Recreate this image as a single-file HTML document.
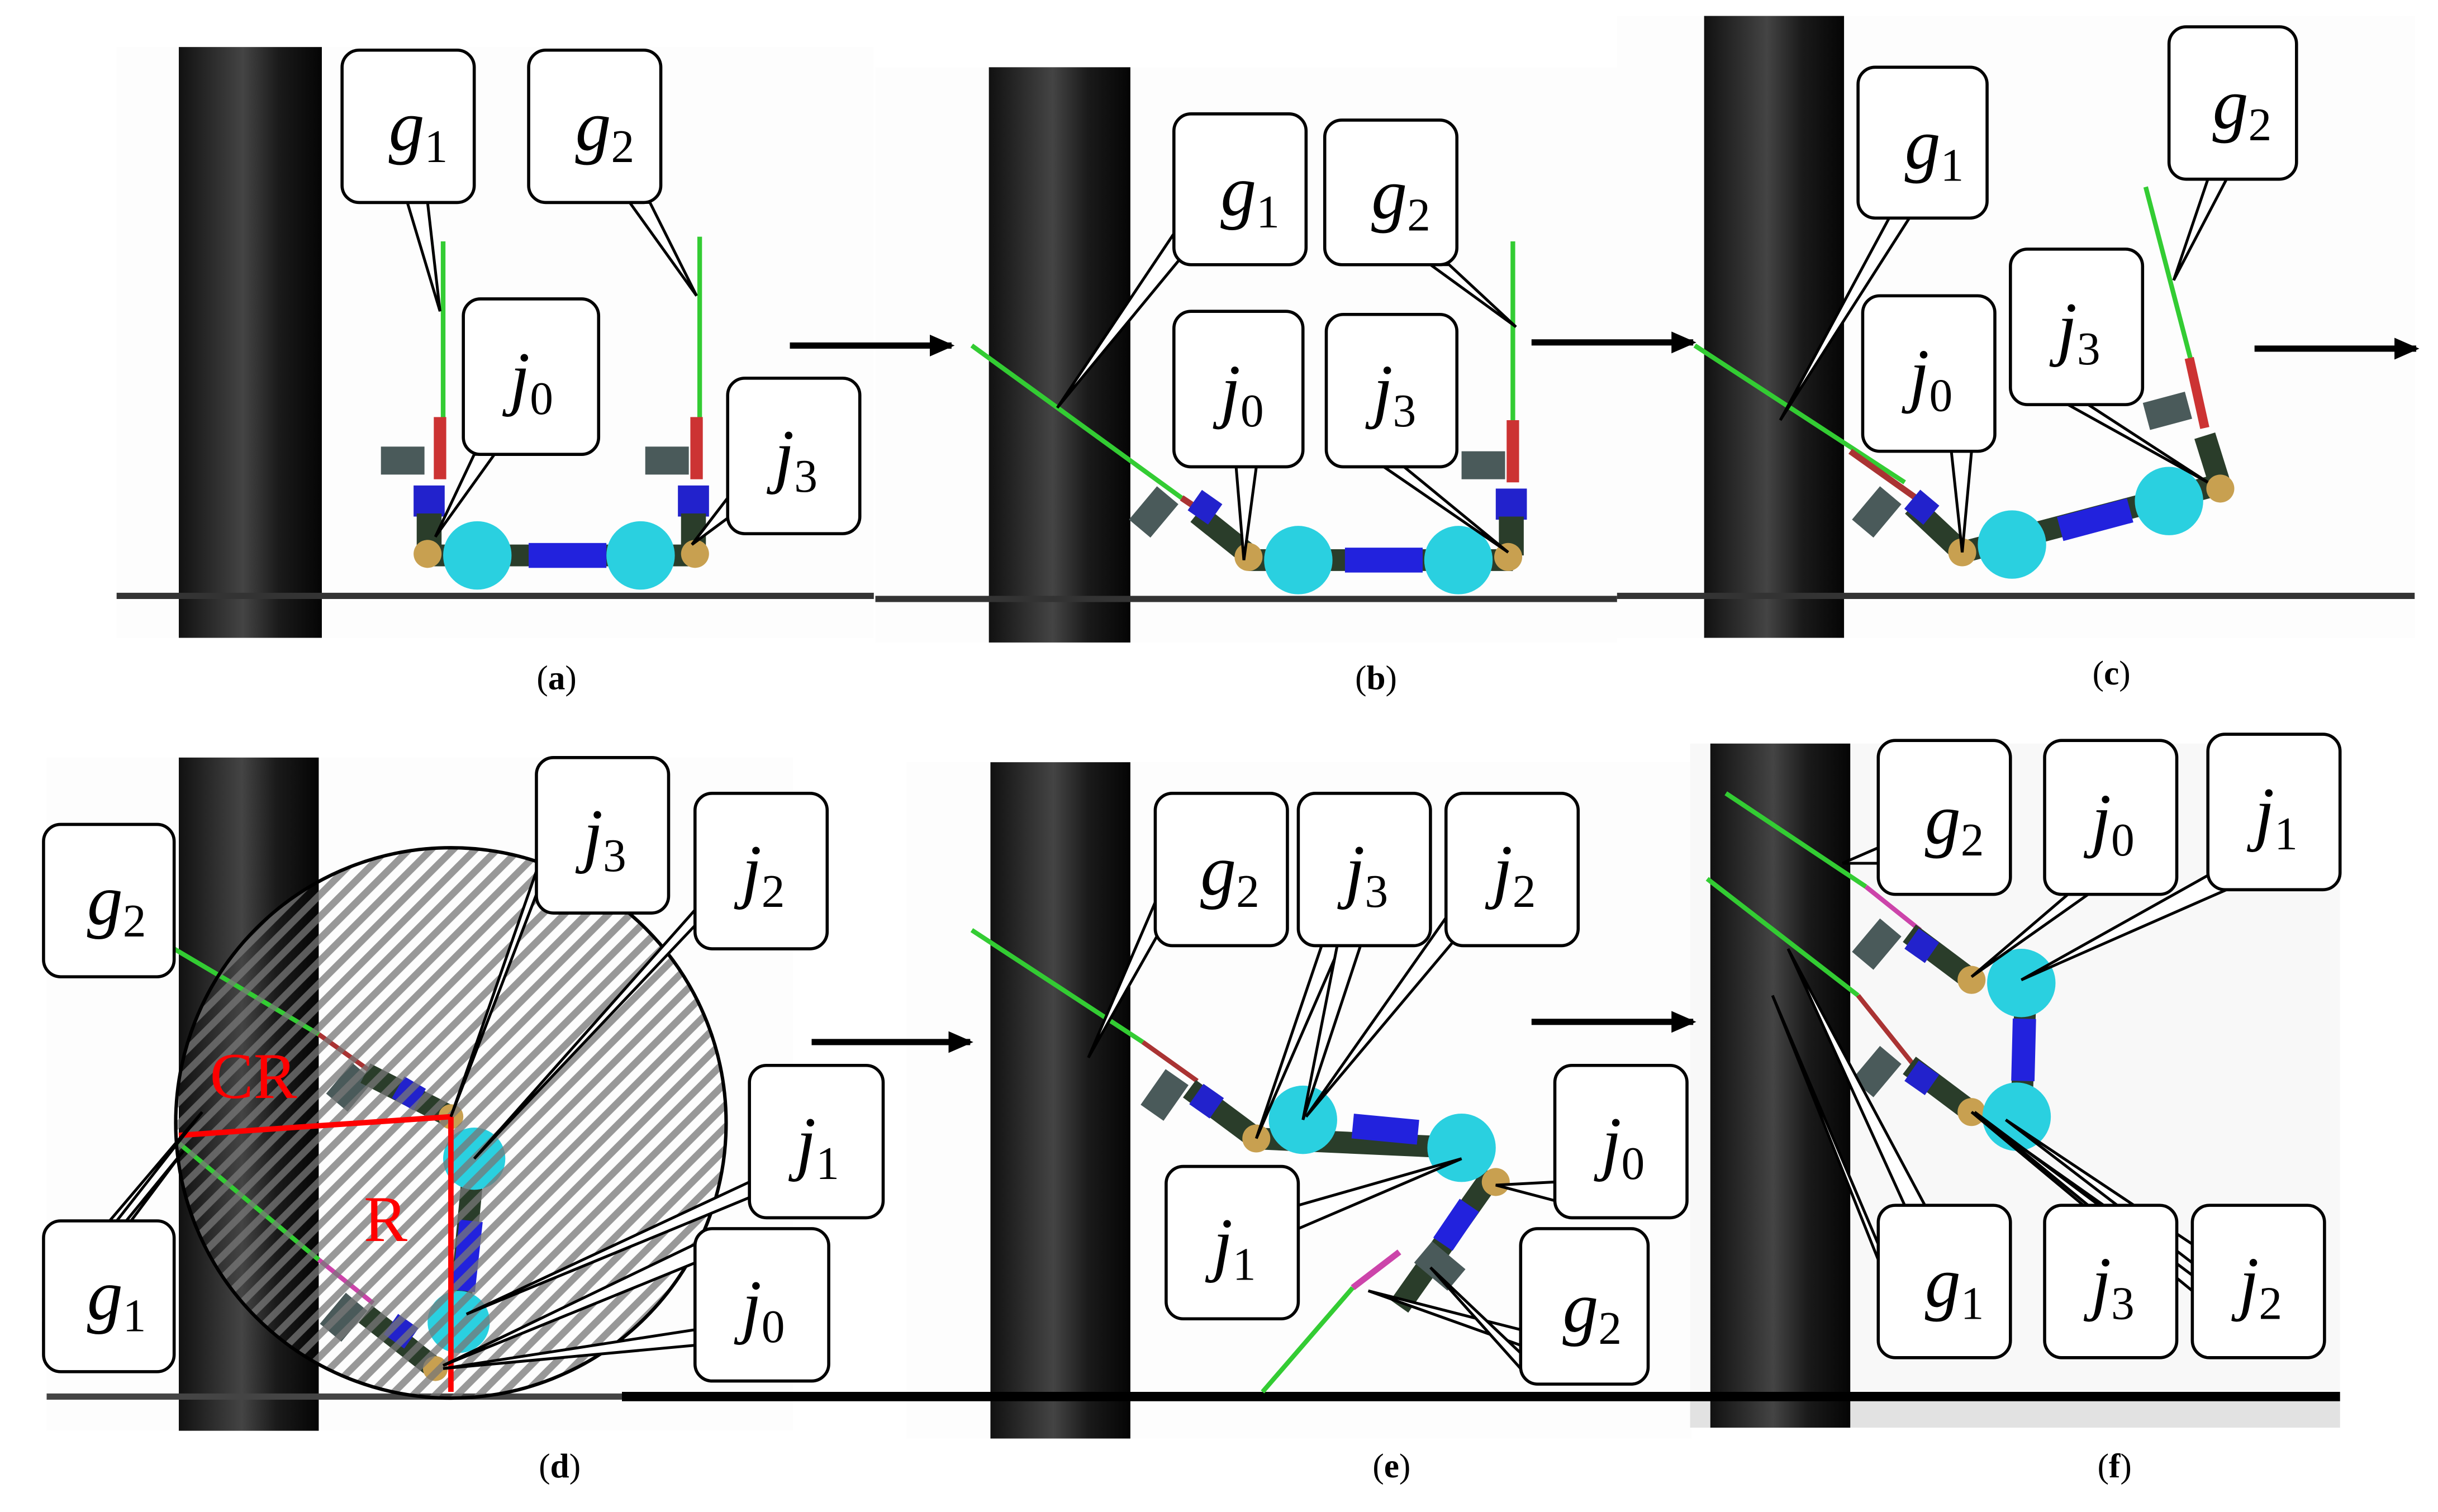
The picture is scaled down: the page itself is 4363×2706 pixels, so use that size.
<!DOCTYPE html>
<html><head><meta charset="utf-8"><style>html,body{margin:0;padding:0;background:#fff}svg{display:block}</style></head>
<body>
<svg width="4363" height="2706" viewBox="0 0 1568 972" xmlns="http://www.w3.org/2000/svg">
<defs>
<linearGradient id="pil" x1="0" x2="1" y1="0" y2="0">
<stop offset="0" stop-color="#111"/><stop offset="0.3" stop-color="#333"/><stop offset="0.45" stop-color="#444"/><stop offset="0.7" stop-color="#1a1a1a"/><stop offset="1" stop-color="#050505"/></linearGradient>
<pattern id="hatch" width="10" height="10" patternUnits="userSpaceOnUse" patternTransform="rotate(-45)">
<rect width="10" height="10" fill="none"/><rect x="0" y="0" width="10" height="4.5" fill="#777" opacity="0.75"/></pattern>
<marker id="ar" markerWidth="16" markerHeight="14" refX="14" refY="7" orient="auto" markerUnits="userSpaceOnUse"><path d="M0,0 L16,7 L0,14 Z"/></marker>
</defs>
<style>
.lab{font-family:"Liberation Serif",serif;font-style:italic;font-size:46px}
.sub{font-family:"Liberation Serif",serif;font-style:normal;font-size:30px}
.cap{font-family:"Liberation Serif",serif;font-size:22px}
.cb{fill:#fff;stroke:#000;stroke-width:2}
.tl{fill:#fff;stroke:#000;stroke-width:1.8}
</style>
<!-- backgrounds -->
<rect x="75" y="30" width="487" height="380" fill="#fdfdfd"/>
<rect x="563" y="43" width="477" height="370" fill="#fdfdfd"/>
<rect x="1040" y="10" width="513" height="400" fill="#fdfdfd"/>
<rect x="30" y="487" width="480" height="433" fill="#fdfdfd"/>
<rect x="583" y="490" width="505" height="435" fill="#fdfdfd"/>
<rect x="1087" y="478" width="418" height="440" fill="#f8f8f8"/>
<rect x="1087" y="900" width="418" height="18" fill="#e2e2e2"/>
<!-- pillars -->
<rect x="115" y="30" width="92" height="380" fill="url(#pil)"/>
<rect x="636" y="43" width="91" height="370" fill="url(#pil)"/>
<rect x="1096" y="10" width="90" height="400" fill="url(#pil)"/>
<rect x="115" y="487" width="90" height="433" fill="url(#pil)"/>
<rect x="637" y="490" width="90" height="435" fill="url(#pil)"/>
<rect x="1100" y="478" width="90" height="440" fill="url(#pil)"/>
<!-- ground lines -->
<line x1="75" y1="383" x2="562" y2="383" stroke="#333" stroke-width="4"/>
<line x1="563" y1="385" x2="1040" y2="385" stroke="#333" stroke-width="4"/>
<line x1="1040" y1="383" x2="1553" y2="383" stroke="#333" stroke-width="4"/>
<line x1="30" y1="898" x2="400" y2="898" stroke="#444" stroke-width="4"/>
<line x1="400" y1="898" x2="1505" y2="898" stroke="#000" stroke-width="6"/>
<!-- arrows -->
<g stroke="#000" stroke-width="4" marker-end="url(#ar)">
<line x1="508" y1="222" x2="612" y2="222"/>
<line x1="985" y1="220" x2="1089" y2="220"/>
<line x1="1450" y1="224" x2="1554" y2="224"/>
<line x1="522" y1="670" x2="624" y2="670"/>
<line x1="985" y1="657" x2="1089" y2="657"/>
</g>
<!-- captions -->
<g class="cap" text-anchor="middle"><text x="358" y="443">(<tspan font-weight="bold">a</tspan>)</text><text x="885" y="443">(<tspan font-weight="bold">b</tspan>)</text><text x="1358" y="440">(<tspan font-weight="bold">c</tspan>)</text><text x="360" y="950">(<tspan font-weight="bold">d</tspan>)</text><text x="895" y="950">(<tspan font-weight="bold">e</tspan>)</text><text x="1360" y="950">(<tspan font-weight="bold">f</tspan>)</text></g>

<!-- robot (a) -->
<g>
<line x1="285" y1="155" x2="285" y2="270" stroke="#3c3" stroke-width="3"/>
<line x1="450" y1="152" x2="450" y2="270" stroke="#3c3" stroke-width="3"/>
<rect x="279" y="268" width="8" height="40" fill="#c33"/><rect x="444" y="268" width="8" height="40" fill="#c33"/>
<rect x="245" y="287" width="28" height="18" fill="#4a5a5a"/><rect x="415" y="287" width="28" height="18" fill="#4a5a5a"/>
<rect x="266" y="312" width="20" height="20" fill="#22c"/><rect x="436" y="312" width="20" height="20" fill="#22c"/>
<rect x="268" y="330" width="16" height="25" fill="#2a3d2a"/><rect x="438" y="330" width="16" height="25" fill="#2a3d2a"/>
<rect x="275" y="350" width="175" height="14" fill="#2a3d2a"/><rect x="340" y="349" width="50" height="16" fill="#22d"/>
<circle cx="275" cy="356" r="9" fill="#c8a050"/><circle cx="447" cy="356" r="9" fill="#c8a050"/>
<circle cx="307" cy="357" r="22" fill="#2ad0e0"/><circle cx="412" cy="357" r="22" fill="#2ad0e0"/>
</g>
<!-- robot (b) -->
<g>
<line x1="625" y1="222" x2="760" y2="320" stroke="#3c3" stroke-width="3"/>
<line x1="760" y1="320" x2="790" y2="340" stroke="#a33" stroke-width="4"/>
<rect x="728" y="320" width="28" height="18" fill="#4a5a5a" transform="rotate(-50 742 329)"/>
<line x1="770" y1="330" x2="805" y2="358" stroke="#2a3d2a" stroke-width="14"/>
<rect x="767" y="318" width="16" height="16" fill="#22c" transform="rotate(35 775 326)"/>
<line x1="973" y1="155" x2="973" y2="275" stroke="#3c3" stroke-width="3"/>
<rect x="969" y="270" width="8" height="40" fill="#c33"/>
<rect x="940" y="290" width="28" height="18" fill="#4a5a5a"/>
<rect x="962" y="314" width="20" height="20" fill="#22c"/><rect x="964" y="332" width="16" height="25" fill="#2a3d2a"/>
<rect x="803" y="353" width="170" height="14" fill="#2a3d2a"/><rect x="865" y="352" width="50" height="16" fill="#22d"/>
<circle cx="803" cy="358" r="9" fill="#c8a050"/><circle cx="970" cy="358" r="9" fill="#c8a050"/>
<circle cx="835" cy="360" r="22" fill="#2ad0e0"/><circle cx="938" cy="360" r="22" fill="#2ad0e0"/>
</g>
<!-- robot (c) -->
<g>
<line x1="1090" y1="222" x2="1225" y2="310" stroke="#3c3" stroke-width="3"/>
<line x1="1190" y1="290" x2="1235" y2="322" stroke="#a33" stroke-width="4"/>
<rect x="1193" y="320" width="28" height="18" fill="#4a5a5a" transform="rotate(-50 1207 329)"/>
<line x1="1230" y1="325" x2="1262" y2="355" stroke="#2a3d2a" stroke-width="14"/>
<rect x="1228" y="318" width="16" height="16" fill="#22c" transform="rotate(40 1236 326)"/>
<line x1="1262" y1="355" x2="1425" y2="312" stroke="#2a3d2a" stroke-width="14"/>
<line x1="1325" y1="340" x2="1370" y2="328" stroke="#22d" stroke-width="16"/>
<line x1="1380" y1="120" x2="1410" y2="235" stroke="#3c3" stroke-width="3"/>
<line x1="1408" y1="230" x2="1418" y2="275" stroke="#c33" stroke-width="6"/>
<rect x="1380" y="255" width="28" height="18" fill="#4a5a5a" transform="rotate(-15 1394 264)"/>
<line x1="1418" y1="280" x2="1428" y2="312" stroke="#2a3d2a" stroke-width="14"/>
<circle cx="1262" cy="355" r="9" fill="#c8a050"/><circle cx="1428" cy="314" r="9" fill="#c8a050"/>
<circle cx="1294" cy="350" r="22" fill="#2ad0e0"/><circle cx="1395" cy="322" r="22" fill="#2ad0e0"/>
</g>
<!-- robot (d) -->
<g>
<line x1="95" y1="600" x2="205" y2="665" stroke="#3c3" stroke-width="3"/>
<line x1="205" y1="665" x2="240" y2="690" stroke="#a33" stroke-width="3"/>
<rect x="212" y="690" width="26" height="18" fill="#4a5a5a" transform="rotate(-50 225 699)"/>
<line x1="235" y1="690" x2="290" y2="718" stroke="#2a3d2a" stroke-width="14"/>
<rect x="255" y="695" width="16" height="16" fill="#22c" transform="rotate(30 263 703)"/>
<line x1="115" y1="735" x2="205" y2="810" stroke="#3c3" stroke-width="3"/>
<line x1="205" y1="810" x2="240" y2="838" stroke="#c4a" stroke-width="3"/>
<rect x="208" y="838" width="26" height="18" fill="#4a5a5a" transform="rotate(-50 221 847)"/>
<line x1="235" y1="845" x2="280" y2="880" stroke="#2a3d2a" stroke-width="14"/>
<rect x="250" y="848" width="16" height="16" fill="#22c" transform="rotate(35 258 856)"/>
<line x1="305" y1="745" x2="295" y2="850" stroke="#2a3d2a" stroke-width="14"/>
<line x1="303" y1="785" x2="298" y2="830" stroke="#22d" stroke-width="15"/>
<circle cx="290" cy="718" r="8" fill="#c8a050"/><circle cx="280" cy="880" r="8" fill="#c8a050"/>
<circle cx="305" cy="745" r="20" fill="#2ad0e0"/><circle cx="295" cy="850" r="20" fill="#2ad0e0"/>
</g>
<!-- hatch circle -->
<circle cx="290" cy="722" r="177" fill="url(#hatch)" stroke="#000" stroke-width="2.2"/>
<line x1="115" y1="730" x2="290" y2="718" stroke="#f00" stroke-width="3.5"/>
<line x1="290" y1="718" x2="290" y2="895" stroke="#f00" stroke-width="3.5"/>
<text x="135" y="706" fill="#f00" font-family="Liberation Serif,serif" font-size="42">CR</text>
<text x="234" y="798" fill="#f00" font-family="Liberation Serif,serif" font-size="42">R</text>
<!-- robot (e) -->
<g>
<line x1="625" y1="598" x2="735" y2="670" stroke="#3c3" stroke-width="3"/>
<line x1="735" y1="670" x2="770" y2="695" stroke="#a33" stroke-width="3"/>
<rect x="735" y="695" width="28" height="18" fill="#4a5a5a" transform="rotate(-55 749 704)"/>
<line x1="765" y1="700" x2="808" y2="732" stroke="#2a3d2a" stroke-width="14"/>
<rect x="768" y="700" width="16" height="16" fill="#22c" transform="rotate(35 776 708)"/>
<line x1="808" y1="732" x2="940" y2="738" stroke="#2a3d2a" stroke-width="14"/>
<line x1="870" y1="724" x2="912" y2="728" stroke="#22d" stroke-width="16"/>
<line x1="960" y1="755" x2="900" y2="840" stroke="#2a3d2a" stroke-width="14"/>
<line x1="945" y1="775" x2="928" y2="800" stroke="#22d" stroke-width="15"/>
<rect x="912" y="805" width="28" height="18" fill="#4a5a5a" transform="rotate(40 926 814)"/>
<line x1="900" y1="805" x2="870" y2="828" stroke="#c4a" stroke-width="4"/>
<line x1="870" y1="828" x2="812" y2="895" stroke="#3c3" stroke-width="3"/>
<circle cx="808" cy="732" r="9" fill="#c8a050"/><circle cx="962" cy="760" r="9" fill="#c8a050"/>
<circle cx="838" cy="720" r="22" fill="#2ad0e0"/><circle cx="940" cy="738" r="22" fill="#2ad0e0"/>
</g>
<!-- robot (f) -->
<g>
<line x1="1110" y1="510" x2="1200" y2="570" stroke="#3c3" stroke-width="3"/>
<line x1="1200" y1="570" x2="1235" y2="598" stroke="#c4a" stroke-width="3"/>
<rect x="1193" y="598" width="28" height="18" fill="#4a5a5a" transform="rotate(-50 1207 607)"/>
<line x1="1228" y1="600" x2="1268" y2="630" stroke="#2a3d2a" stroke-width="14"/>
<rect x="1228" y="600" width="16" height="16" fill="#22c" transform="rotate(35 1236 608)"/>
<line x1="1098" y1="565" x2="1195" y2="640" stroke="#3c3" stroke-width="3"/>
<line x1="1195" y1="640" x2="1235" y2="690" stroke="#a33" stroke-width="3"/>
<rect x="1193" y="680" width="28" height="18" fill="#4a5a5a" transform="rotate(-50 1207 689)"/>
<line x1="1228" y1="685" x2="1268" y2="715" stroke="#2a3d2a" stroke-width="14"/>
<rect x="1228" y="685" width="16" height="16" fill="#22c" transform="rotate(35 1236 693)"/>
<line x1="1303" y1="632" x2="1300" y2="718" stroke="#2a3d2a" stroke-width="14"/>
<line x1="1302" y1="655" x2="1301" y2="695" stroke="#22d" stroke-width="15"/>
<circle cx="1268" cy="630" r="9" fill="#c8a050"/><circle cx="1268" cy="715" r="9" fill="#c8a050"/>
<circle cx="1300" cy="632" r="22" fill="#2ad0e0"/><circle cx="1297" cy="718" r="22" fill="#2ad0e0"/>
</g>

<!-- callouts: tails then boxes -->
<g class="tl">
<polygon points="262,130 275,130 283,200"/>
<polygon points="405,130 418,130 448,190"/>
<polygon points="305,292 318,292 280,345"/>
<polygon points="468,320 468,333 445,350"/>
<polygon points="755,150 760,165 680,262"/>
<polygon points="920,170 932,170 975,210"/>
<polygon points="795,300 808,300 800,360"/>
<polygon points="890,300 903,300 970,355"/>
<polygon points="1215,140 1228,140 1145,270"/>
<polygon points="1420,115 1432,115 1398,180"/>
<polygon points="1255,290 1268,290 1262,355"/>
<polygon points="1330,260 1343,260 1420,310"/>
<polygon points="112,600 112,612 100,600"/>
<polygon points="28,835 28,845 130,715"/>
<polygon points="28,850 28,860 118,740"/>
<polygon points="345,560 345,575 290,718"/>
<polygon points="447,585 447,595 305,745"/>
<polygon points="482,760 482,770 300,845"/>
<polygon points="447,800 447,812 285,878"/>
<polygon points="447,855 447,865 285,880"/>
<polygon points="743,580 748,595 700,680"/>
<polygon points="850,608 862,608 808,732"/>
<polygon points="860,608 875,608 838,720"/>
<polygon points="930,590 935,605 840,718"/>
<polygon points="1000,760 1000,772 962,762"/>
<polygon points="835,775 835,790 940,745"/>
<polygon points="978,855 978,865 880,830"/>
<polygon points="978,870 978,880 920,815"/>
<polygon points="1208,545 1208,555 1185,555"/>
<polygon points="1330,575 1343,575 1268,628"/>
<polygon points="1425,560 1432,572 1300,630"/>
<polygon points="1225,775 1238,775 1150,610"/>
<polygon points="1208,800 1208,810 1140,640"/>
<polygon points="1340,775 1353,775 1268,715"/>
<polygon points="1410,800 1410,812 1290,720"/>
<polygon points="1410,820 1410,830 1270,715"/>
</g>
<g class="cb">
<rect x="220" y="32" width="85" height="98" rx="11"/>
<rect x="340" y="32" width="85" height="98" rx="11"/>
<rect x="298" y="192" width="87" height="100" rx="11"/>
<rect x="468" y="243" width="85" height="100" rx="11"/>
<rect x="755" y="73" width="85" height="97" rx="11"/>
<rect x="852" y="77" width="85" height="93" rx="11"/>
<rect x="755" y="200" width="83" height="100" rx="11"/>
<rect x="853" y="202" width="84" height="98" rx="11"/>
<rect x="1195" y="43" width="83" height="97" rx="11"/>
<rect x="1395" y="17" width="82" height="98" rx="11"/>
<rect x="1198" y="190" width="85" height="100" rx="11"/>
<rect x="1293" y="160" width="85" height="100" rx="11"/>
<rect x="28" y="530" width="84" height="98" rx="11"/>
<rect x="28" y="785" width="84" height="97" rx="11"/>
<rect x="345" y="487" width="85" height="100" rx="11"/>
<rect x="447" y="510" width="85" height="100" rx="11"/>
<rect x="482" y="685" width="86" height="98" rx="11"/>
<rect x="447" y="790" width="86" height="98" rx="11"/>
<rect x="743" y="510" width="85" height="98" rx="11"/>
<rect x="835" y="510" width="85" height="98" rx="11"/>
<rect x="930" y="510" width="85" height="98" rx="11"/>
<rect x="1000" y="685" width="85" height="98" rx="11"/>
<rect x="750" y="750" width="85" height="98" rx="11"/>
<rect x="978" y="790" width="82" height="100" rx="11"/>
<rect x="1208" y="476" width="85" height="99" rx="11"/>
<rect x="1315" y="476" width="85" height="99" rx="11"/>
<rect x="1420" y="472" width="85" height="100" rx="11"/>
<rect x="1208" y="775" width="85" height="98" rx="11"/>
<rect x="1315" y="775" width="85" height="98" rx="11"/>
<rect x="1410" y="775" width="85" height="98" rx="11"/>
</g>
<g class="lab">
<text x="250" y="96">g<tspan class="sub" dy="8">1</tspan></text>
<text x="370" y="96">g<tspan class="sub" dy="8">2</tspan></text>
<text x="328" y="258">j<tspan class="sub" dy="8">0</tspan></text>
<text x="498" y="308">j<tspan class="sub" dy="8">3</tspan></text>
<text x="785" y="138">g<tspan class="sub" dy="8">1</tspan></text>
<text x="882" y="140">g<tspan class="sub" dy="8">2</tspan></text>
<text x="785" y="266">j<tspan class="sub" dy="8">0</tspan></text>
<text x="883" y="266">j<tspan class="sub" dy="8">3</tspan></text>
<text x="1225" y="108">g<tspan class="sub" dy="8">1</tspan></text>
<text x="1423" y="82">g<tspan class="sub" dy="8">2</tspan></text>
<text x="1228" y="256">j<tspan class="sub" dy="8">0</tspan></text>
<text x="1323" y="226">j<tspan class="sub" dy="8">3</tspan></text>
<text x="56" y="594">g<tspan class="sub" dy="8">2</tspan></text>
<text x="56" y="848">g<tspan class="sub" dy="8">1</tspan></text>
<text x="375" y="552">j<tspan class="sub" dy="8">3</tspan></text>
<text x="477" y="575">j<tspan class="sub" dy="8">2</tspan></text>
<text x="512" y="750">j<tspan class="sub" dy="8">1</tspan></text>
<text x="477" y="855">j<tspan class="sub" dy="8">0</tspan></text>
<text x="772" y="575">g<tspan class="sub" dy="8">2</tspan></text>
<text x="865" y="575">j<tspan class="sub" dy="8">3</tspan></text>
<text x="960" y="575">j<tspan class="sub" dy="8">2</tspan></text>
<text x="1030" y="750">j<tspan class="sub" dy="8">0</tspan></text>
<text x="780" y="815">j<tspan class="sub" dy="8">1</tspan></text>
<text x="1005" y="856">g<tspan class="sub" dy="8">2</tspan></text>
<text x="1238" y="542">g<tspan class="sub" dy="8">2</tspan></text>
<text x="1345" y="542">j<tspan class="sub" dy="8">0</tspan></text>
<text x="1450" y="538">j<tspan class="sub" dy="8">1</tspan></text>
<text x="1238" y="840">g<tspan class="sub" dy="8">1</tspan></text>
<text x="1345" y="840">j<tspan class="sub" dy="8">3</tspan></text>
<text x="1440" y="840">j<tspan class="sub" dy="8">2</tspan></text>
</g>
</svg>
</body></html>
